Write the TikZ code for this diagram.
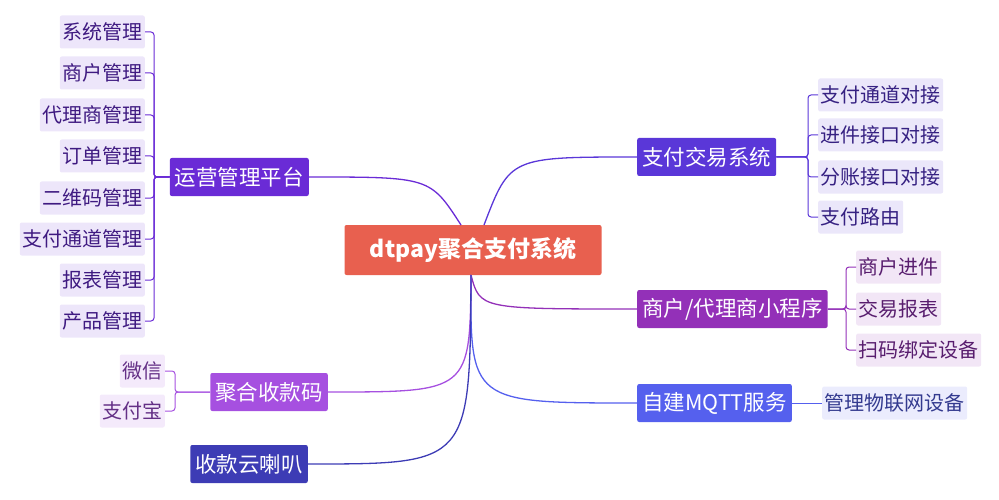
\documentclass[tikz,border=0pt]{standalone}
\usepackage{fontspec}
\setmainfont{Noto Sans CJK SC}
\usetikzlibrary{positioning}
\definecolor{rootc}{HTML}{E8604F}
\definecolor{opc}{HTML}{6A2BD6}
\definecolor{payc}{HTML}{5A37D8}
\definecolor{miniC}{HTML}{9330B8}
\definecolor{mqttc}{HTML}{5560EE}
\definecolor{codec}{HTML}{A650E0}
\definecolor{hornc}{HTML}{3D3CB5}
\begin{document}
\begin{tikzpicture}[x=1pt,y=-1pt,
  main/.style={rounded corners=2pt,text=white,font=\fontsize{21.5}{21}\selectfont,inner sep=5pt,minimum height=38pt},
  leaf/.style={rounded corners=2pt,text=#1!60!black,fill=#1!12,font=\fontsize{20}{20}\selectfont,inner sep=2.5pt,minimum height=33pt},
  edge/.style={line width=1.3pt}]
\useasboundingbox (0,0) rectangle (999,500);
\node[rounded corners=2pt,fill=rootc,text=white,font=\bfseries\fontsize{23}{23}\selectfont,minimum width=257pt,minimum height=50pt] (root) at (473,250) {dtpay聚合支付系统};
% left side
\node[main,fill=opc,anchor=east] (op) at (309,177) {运营管理平台};
\foreach \t/\y [count=\i] in {系统管理/32,商户管理/73,代理商管理/115,订单管理/156,二维码管理/198,支付通道管理/239,报表管理/280,产品管理/321}
  \node[leaf=opc,anchor=east] (op\i) at (145,\y) {\t};
\node[main,fill=codec,anchor=east] (code) at (328,392) {聚合收款码};
\node[leaf=codec,anchor=east] (code1) at (165,371) {微信};
\node[leaf=codec,anchor=east] (code2) at (165,411) {支付宝};
\node[main,fill=hornc,anchor=east] (horn) at (308,464) {收款云喇叭};
% right side
\node[main,fill=payc,anchor=west] (pay) at (637,157) {支付交易系统};
\foreach \t/\y [count=\i] in {支付通道对接/95,进件接口对接/135,分账接口对接/177,支付路由/217}
  \node[leaf=payc,anchor=west] (pay\i) at (818,\y) {\t};
\node[main,fill=miniC,anchor=west] (mini) at (637,309) {商户/代理商小程序};
\foreach \t/\y [count=\i] in {商户进件/267,交易报表/309,扫码绑定设备/350}
  \node[leaf=miniC,anchor=west] (mini\i) at (856,\y) {\t};
\node[main,fill=mqttc,anchor=west] (mqtt) at (637,403) {自建MQTT服务};
\node[leaf=mqttc,anchor=west] (mqtt1) at (822,403) {管理物联网设备};
% branches
\coordinate (r1) at (461,225); \coordinate (r2) at (484,225); \coordinate (r3) at (471,275);
\draw[edge,opc] (r1) .. controls (430,177) .. (op.east);
\draw[edge,payc] (r2) .. controls (510,157) .. (pay.west);
\draw[edge,miniC] (r3) .. controls (480,309) .. (mini.west);
\draw[edge,mqttc] (r3) .. controls (470,403) .. (mqtt.west);
\draw[edge,codec] (r3) .. controls (470,392) .. (code.east);
\draw[edge,hornc] (r3) .. controls (470,464) .. (horn.east);
% brackets
\foreach \i in {1,...,8} \draw[opc,line width=1pt,rounded corners=3pt] (op.west) -- (154,177) |- (op\i.east);
\foreach \i in {1,2} \draw[codec,line width=1pt,rounded corners=3pt] (code.west) -- (175,392) |- (code\i.east);
\foreach \i in {1,...,4} \draw[payc,line width=1pt,rounded corners=3pt] (pay.east) -- (808,157) |- (pay\i.west);
\foreach \i in {1,2,3} \draw[miniC,line width=1pt,rounded corners=3pt] (mini.east) -- (846,309) |- (mini\i.west);
\draw[mqttc,line width=1pt] (mqtt.east) -- (mqtt1.west);
\end{tikzpicture}
\end{document}
